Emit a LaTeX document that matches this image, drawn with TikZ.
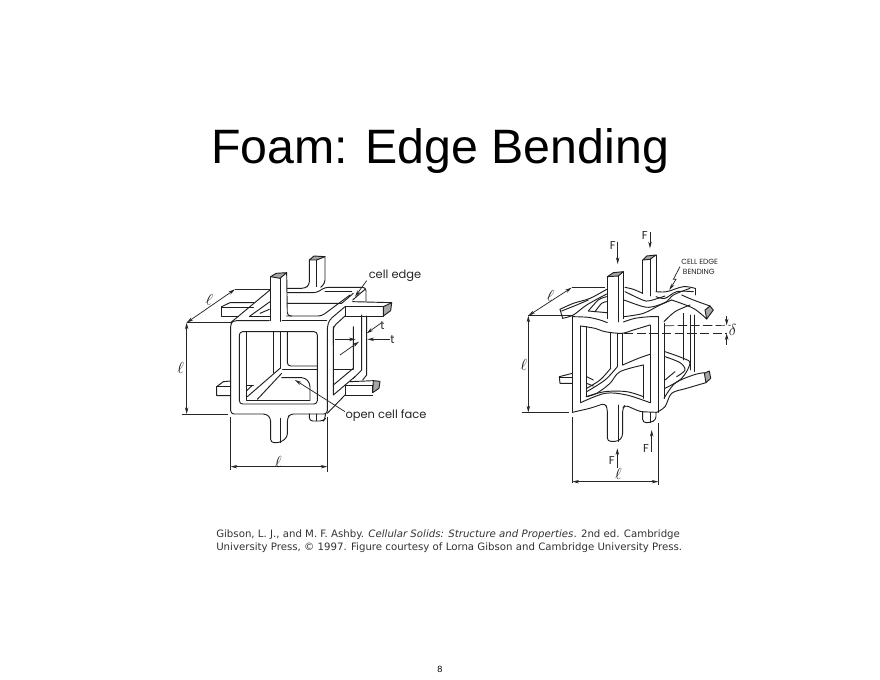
\documentclass[tikz,border=0pt]{standalone}
\usepackage{fontspec}
\setmainfont{Liberation Sans}
\newfontfamily\capfont{DejaVu Sans}
\newfontfamily\lblfont{Poppins}
\usetikzlibrary{arrows.meta}
\tikzset{
  ink/.style={draw=black!88,line width=.7pt,line cap=round,line join=round},
  rnd/.style={ink,rounded corners=2.5pt},
  thin ink/.style={draw=black!85,line width=.55pt},
  dimline/.style={thin ink,{Stealth[length=5pt,width=2.6pt]}-{Stealth[length=5pt,width=2.6pt]}},
  arr/.style={thin ink,-{Stealth[length=5pt,width=2.6pt]}},
  hatchend/.style={ink,fill=black!35},
  lbl/.style={font=\lblfont\fontsize{8.6pt}{10pt}\selectfont,text=black!85,inner sep=0pt},
  capsl/.style={font=\lblfont\fontsize{5.6pt}{7pt}\selectfont,text=black!85,inner sep=0pt,anchor=west},
  mathl/.style={text=black!90,inner sep=0pt,font=\fontsize{11.5pt}{13pt}\selectfont},
  captext/.style={font=\capfont\fontsize{7.64pt}{9.8pt}\selectfont,text=black!80,inner sep=0pt,anchor=west}
}
\newcommand{\wv}[1]{\draw[ink] plot[smooth,tension=.55] coordinates {#1};}
\begin{document}
\begin{tikzpicture}[x=.75pt,y=-.75pt]
\useasboundingbox (0,0) rectangle (880,680);
\fill[white] (0,0) rectangle (880,680);
\node[font=\fontsize{36.2pt}{40pt}\selectfont,inner sep=0pt] (title) at (440,151) {Foam: Edge Bending};
\node[captext] (cap1) at (216,534.5) {Gibson, L. J., and M. F. Ashby. \textit{Cellular Solids: Structure and Properties}. 2nd ed. Cambridge};
\node[captext] (cap2) at (216,547.5) {University Press, © 1997. Figure courtesy of Lorna Gibson and Cambridge University Press.};
\node[font=\fontsize{6.8pt}{8pt}\selectfont,inner sep=0pt] (pg) at (440,669) {8};

%% ===== LEFT FIGURE
\begin{scope}[shift={(170,240)},x=.25pt,y=-.25pt]
% hatched ends
\draw[hatchend] (302,110)--(318,100)--(350,98)--(330,115)--cycle;
\draw[hatchend] (418,60)--(432,48)--(465,50)--(440,60)--cycle;
\draw[hatchend] (640,200)--(665,188)--(662,212)--(640,228)--cycle;
\draw[hatchend] (610,422)--(630,424)--(627,445)--(608,458)--cycle;
% front face
\draw[rnd] (298,242)--(190,242)--(182,250)--(182,522)--(290,522)--(302,535)--(302,608)--(330,608)--(352,592)--(352,535)--(360,522)--(472,522)--(472,260)--(478,240)--(525,200);
\draw[rnd] (208,300)--(208,275)--(442,275)--(442,492)--(208,492)--cycle;
\draw[ink] (330,115)--(330,244);
\draw[ink] (332,535)--(332,608);
\draw[rnd] (302,110)--(302,242);
\draw[rnd] (350,98)--(352,228)--(365,228);
\draw[ink] (182,248)--(300,150);
\draw[ink] (240,228)--(300,185);
\draw[ink] (238,228)--(302,228);
\draw[ink] (270,220)--(298,208);
% back strut top
\draw[rnd] (418,60)--(418,135)--(405,145)--(352,145);
\draw[ink] (440,60)--(440,140);
\draw[rnd] (352,158)--(440,158)--(465,142)--(588,142)--(588,185);
\draw[rnd] (465,50)--(465,130)--(452,142);
\draw[ink] (465,155)--(545,155);
\draw[ink] (548,180)--(585,148);
\draw[ink] (352,190)--(515,190)--(550,160);
\draw[rnd] (350,228)--(455,228)--(540,165);
\draw[ink] (336,242)--(470,242);
% horizontal right strut top
\draw[ink] (525,200)--(640,200)--(640,228)--(525,228)--cycle;
\draw[ink] (548,185)--(665,188);
\draw[rnd] (490,315)--(490,260)--(525,228);
% left upper strut
\draw[ink] (155,200)--(180,188)--(252,188);
\draw[ink] (155,200)--(155,228)--(205,228);
\draw[ink] (155,203)--(250,203);
% window interior
\draw[ink] (230,275)--(230,480);
\draw[rnd] (310,275)--(310,398);
\draw[ink] (330,275)--(330,385);
\draw[rnd] (352,275)--(352,378)--(442,378);
\draw[ink] (338,387)--(442,387);
\draw[rnd] (330,385)--(232,470);
\draw[rnd] (335,400)--(262,478);
\draw[rnd] (335,413)--(405,413)--(420,430)--(420,480);
\draw[ink] (230,480)--(420,480);
\draw[ink] (230,437)--(250,437);
\draw[ink] (230,452)--(246,437);
% left lower strut
\draw[ink] (182,423)--(160,425)--(140,440)--(140,467)--(182,467);
\draw[ink] (140,440)--(182,440);
% lower rear strut
\draw[rnd] (418,522)--(418,543)--(460,543)--(466,536)--(466,522);
\draw[ink] (440,522)--(440,543);
% right side
\draw[ink] (472,520)--(525,465);
\draw[ink] (525,437)--(608,437);
\draw[ink] (525,465)--(608,465);
\draw[ink] (525,437)--(525,465);
\draw[ink] (608,437)--(608,458);
\draw[ink] (540,425)--(610,422);
\draw[ink] (490,260)--(490,465)--(555,410);
\draw[ink] (490,435)--(550,385)--(550,260);
\draw[ink] (490,387)--(550,387);
\draw[ink] (575,225)--(575,390)--(550,415);
\draw[ink] (590,228)--(590,405)--(578,420);
% dimensions
\draw[thin ink] (50,248)--(182,248);
\draw[thin ink] (35,522)--(175,522);
\draw[thin ink] (182,530)--(182,690);
\draw[thin ink] (472,530)--(472,695);
\draw[thin ink] (195,148)--(300,148);
\draw[dimline] (50,522)--(50,248);
\draw[dimline] (182,680)--(472,680);
\draw[dimline] (50,248)--(195,148);
\node[mathl] (lA) at (32,385) {$\ell$};
\node[mathl] (lB) at (325,665) {$\ell$};
\node[mathl,rotate=-10] (lC) at (118,180) {$\ell$};
% labels
\node[lbl] (ce) at (675,106) {cell edge};
\node[lbl] (t1) at (637,258) {t};
\node[lbl] (t2) at (667,300) {t};
\node[lbl] (ocf) at (648,526) {open cell face};
\coordinate (ceA) at (590,122); \coordinate (ceB) at (555,170);
\draw[arr] (ceA)--(ceB);
\draw[arr] (525,515)--(375,420);
\draw[arr] (632,250)--(590,280);
\draw[arr] (510,345)--(567,305);
\draw[arr] (495,298)--(557,298);
\draw[arr] (660,298)--(592,298);
\end{scope}

%% ===== RIGHT FIGURE
\begin{scope}[shift={(510,220)},x=.25pt,y=-.25pt]
% hatched ends
\draw[hatchend] (292,170)--(310,158)--(340,155)--(325,168)--cycle;
\draw[hatchend] (398,120)--(410,108)--(438,105)--(420,118)--cycle;
\draw[hatchend] (590,297)--(610,270)--(600,258)--(585,270)--cycle;
\draw[hatchend] (588,488)--(602,475)--(598,453)--(583,460)--cycle;
% struts
\draw[ink] (292,170)--(292,296);
\draw[ink] (325,168)--(325,306);
\draw[ink] (340,155)--(340,296);
\draw[ink] (398,120)--(398,220);
\draw[ink] (420,118)--(420,228);
\draw[ink] (438,105)--(438,215);
% front face
\draw[ink] (187,290)--(187,577);
\draw[ink] (445,290)--(445,577);
\wv{(187,290)(235,292)(270,300)(292,308)}
\wv{(340,306)(375,295)(420,290)(445,290)}
\wv{(212,318)(255,325)(285,335)(335,340)(370,330)(420,315)}
\draw[ink] (212,318)--(212,548);
\draw[ink] (420,315)--(420,548);
\wv{(212,548)(285,520)(350,525)(420,548)}
\draw[ink] (228,320)--(228,530);
\wv{(228,530)(285,515)(350,515)(400,530)}
\draw[rnd] (187,577)--(240,565)--(285,550)--(292,565)--(292,664)--(325,664)--(338,650)--(338,565)--(345,555)--(390,575)--(440,577);
\draw[ink] (325,555)--(325,664);
% back strut inside
\draw[ink] (302,340)--(302,445);
\draw[ink] (322,340)--(322,440);
\draw[ink] (338,340)--(338,435);
\wv{(338,435)(385,415)(420,403)}
\wv{(322,440)(285,480)(230,515)}
\wv{(302,445)(270,480)(230,505)}
\wv{(400,435)(330,455)(300,490)(260,520)(230,530)}
\draw[ink] (400,435)--(400,535);
\draw[ink] (230,470)--(250,480);
\draw[ink] (230,490)--(250,498);
% lower rear strut
\draw[rnd] (398,575)--(398,608)--(420,608)--(438,600)--(438,577);
\draw[ink] (420,578)--(420,608);
% left stubs
\draw[ink] (148,470)--(187,460);
\draw[ink] (148,472)--(187,472);
\draw[ink] (148,472)--(150,490)--(187,490);
\wv{(150,268)(190,250)(240,235)(290,208)}
\wv{(155,273)(200,255)(235,240)}
\wv{(158,295)(190,285)(230,255)(290,222)}
\draw[ink] (150,268)--(158,295);
\wv{(235,273)(265,240)(290,230)}
\draw[ink] (235,273)--(290,278);
\wv{(255,275)(275,250)(290,245)}
% top beams
\wv{(345,202)(370,208)(398,220)}
\wv{(345,215)(398,240)(420,242)(465,228)}
\wv{(438,215)(470,215)(520,200)(555,205)}
\wv{(438,230)(465,235)(500,215)(550,215)}
\draw[ink] (555,205)--(555,225);
\wv{(342,240)(400,260)(430,260)(470,245)(490,225)(540,205)}
\wv{(342,290)(400,280)(450,255)(485,240)}
\wv{(515,225)(550,240)(600,258)}
\wv{(485,240)(550,265)(590,297)}
\wv{(462,305)(495,275)(540,255)}
% right side
\draw[ink] (462,310)--(462,535);
\draw[ink] (520,280)--(520,420);
\draw[ink] (540,285)--(540,450);
\draw[ink] (552,285)--(552,455);
\wv{(440,577)(465,560)(485,520)(530,505)(588,488)}
\wv{(462,535)(495,490)(550,465)(583,458)}
\wv{(465,395)(520,415)(540,430)(515,475)(465,505)}
\wv{(465,410)(510,428)(525,450)(500,470)}
\draw[ink] (465,480)--(495,455);
% dashed
\draw[thin ink,dash pattern=on 7pt off 2.5pt] (465,317)--(662,316);
\draw[thin ink,dash pattern=on 7pt off 2.5pt] (342,340)--(650,340);
\draw[arr] (650,288)--(650,316);
\draw[arr] (650,375)--(650,340);
\node[mathl] (del) at (668,330) {$\delta$};
% dims
\draw[thin ink] (55,287)--(187,287);
\draw[thin ink] (35,577)--(178,577);
\draw[thin ink] (187,590)--(187,790);
\draw[thin ink] (445,610)--(445,795);
\draw[thin ink] (185,203)--(285,203);
\draw[dimline] (55,577)--(55,287);
\draw[dimline] (187,785)--(445,785);
\draw[dimline] (55,287)--(185,203);
\node[mathl] (rA) at (42,435) {$\ell$};
\node[mathl] (rB) at (325,762) {$\ell$};
\node[mathl,rotate=-10] (rC) at (122,228) {$\ell$};
% forces
\node[lbl] (f1) at (308,78) {F};
\node[lbl] (f2) at (404,48) {F};
\node[lbl] (f3) at (305,722) {F};
\node[lbl] (f4) at (408,685) {F};
\draw[arr] (323,65)--(323,132);
\draw[arr] (420,35)--(420,85);
\draw[arr] (322,745)--(322,685);
\draw[arr] (425,695)--(425,630);
\node[capsl] (ceb1) at (513,126) {CELL EDGE};
\node[capsl] (ceb2) at (518,155) {BENDING};
\draw[arr] (510,140)--(490,178)--(498,178)--(478,210);
\end{scope}
\end{tikzpicture}
\end{document}
